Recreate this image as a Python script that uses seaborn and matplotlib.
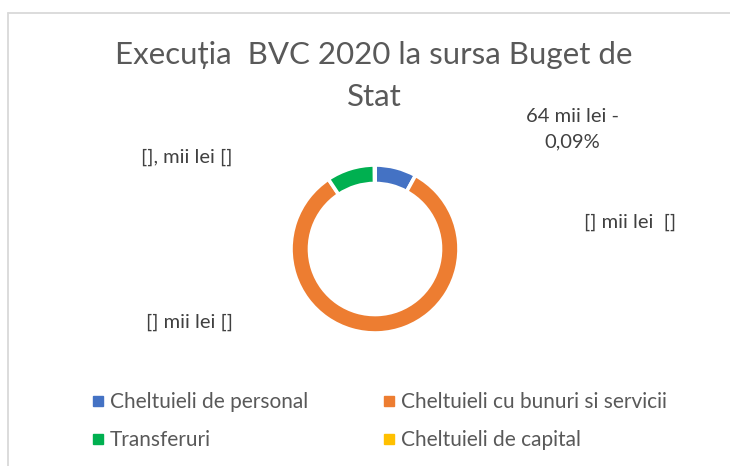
import matplotlib
matplotlib.use("Agg")
import matplotlib.pyplot as plt
from matplotlib.lines import Line2D
import seaborn as sns

categories = ["Cheltuieli de personal", "Cheltuieli cu bunuri si servicii",
              "Transferuri", "Cheltuieli de capital"]
values_mii_lei = [5700, 58800, 6600, 64]
colors = ["#4472C4", "#ED7D31", "#00B050", "#FFC000"]
title = "Execuția  BVC 2020 la sursa Buget de\nStat"
data_labels = ["64 mii lei -\n0,09%", "[] mii lei  []", "[] mii lei []", "[], mii lei []"]

sns.set_theme(style="white")
plt.rcParams["font.family"] = ["Lato", "DejaVu Sans"]

W, H = 730, 466
fig = plt.figure(figsize=(W / 100, H / 100), dpi=100)
fig.patch.set_facecolor("white")

def fx(px):
    return px / W

def fy(py):
    return 1 - py / H

# chart frame (top and left)
fig.add_artist(Line2D([fx(8), fx(730)], [fy(12.5), fy(12.5)], color="#d9d9d9", lw=1.3))
fig.add_artist(Line2D([fx(8), fx(8)], [fy(12.5), fy(466)], color="#d9d9d9", lw=1.3))

cx, cy, r = 375, 249, 84
ax = fig.add_axes([fx(cx - r), fy(cy + r), 2 * r / W, 2 * r / H])
ax.pie(values_mii_lei, colors=colors, startangle=90, counterclock=False,
       radius=1, wedgeprops=dict(width=0.22, edgecolor="white", linewidth=2.6))
ax.set_xlim(-1, 1)
ax.set_ylim(-1, 1)
ax.set_aspect("auto")
ax.axis("off")

fig.text(fx(374), fy(76), title, ha="center", va="center", fontsize=22.5,
         color="#595959", linespacing=1.62)

lab_col = "#404040"
lab_fs = 14.5
fig.text(fx(572), fy(129), data_labels[0], ha="center", va="center",
         fontsize=lab_fs, color=lab_col, linespacing=1.6)
fig.text(fx(630), fy(222), data_labels[1], ha="center", va="center",
         fontsize=lab_fs, color=lab_col)
fig.text(fx(189), fy(322), data_labels[2], ha="center", va="center",
         fontsize=lab_fs, color=lab_col)
fig.text(fx(187), fy(157), data_labels[3], ha="center", va="center",
         fontsize=lab_fs, color=lab_col)

order = [0, 2, 1, 3]
handles = [Line2D([0], [0], marker="s", linestyle="none", markersize=7,
                  markerfacecolor=colors[i], markeredgecolor=colors[i]) for i in order]
leg = fig.legend(handles, [categories[i] for i in order], ncol=2, loc="upper left",
                 bbox_to_anchor=(fx(82), fy(382)), frameon=False,
                 fontsize=15, handlelength=0.55, handletextpad=0.3,
                 columnspacing=3.6, labelspacing=0.85, borderpad=0)
for t in leg.get_texts():
    t.set_color("#595959")

fig.savefig("out.png", dpi=100)
